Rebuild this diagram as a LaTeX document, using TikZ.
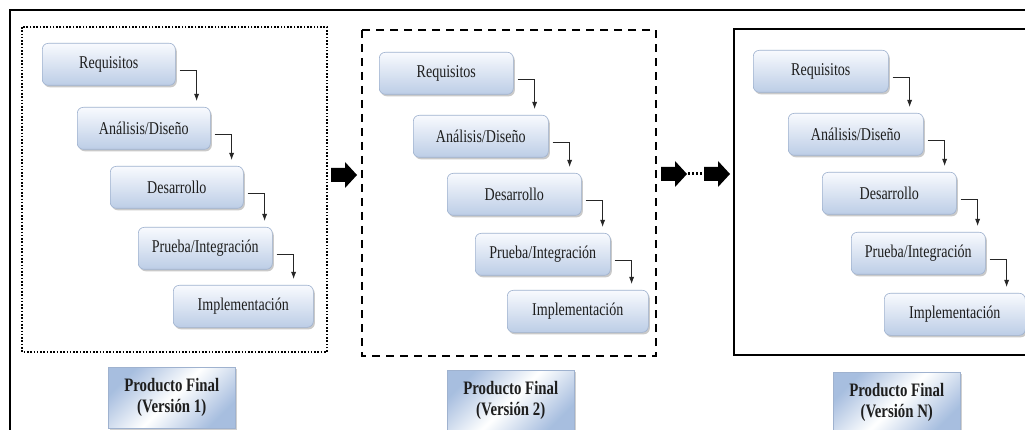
\documentclass[tikz,border=0pt]{standalone}
\usepackage{fontspec}
\setmainfont[FakeStretch=0.78]{Liberation Serif}
\usetikzlibrary{arrows.meta,shadows,calc}

\definecolor{stagetop}{HTML}{F8FAFE}
\definecolor{stagebot}{HTML}{BCCDE6}
\definecolor{stageline}{HTML}{9FB2CF}
\definecolor{prodblue}{HTML}{A7BEDF}
\definecolor{inktext}{HTML}{1E1E1E}

\tikzset{
  stage/.style={anchor=north west, rounded corners=6pt, draw=stageline, line width=0.6pt,
    top color=stagetop, bottom color=stagebot, minimum height=42pt, inner sep=0pt,
    text=inktext, font=\fontsize{18}{20}\selectfont,
    drop shadow={shadow xshift=1.5pt, shadow yshift=-2pt, opacity=0.35, fill=black!60}},
  product/.style={anchor=north west, draw=stageline, line width=0.5pt,
    shading=axis, top color=prodblue, bottom color=prodblue, middle color=white, shading angle=45,
    minimum width=127pt, minimum height=61pt, inner sep=0pt, align=center,
    text=inktext, font=\bfseries\fontsize{19}{21}\selectfont,
    drop shadow={shadow xshift=1.5pt, shadow yshift=-2pt, opacity=0.3, fill=black!60}},
  flow/.style={-{Latex[length=7pt,width=5pt]}, line width=0.8pt, draw=black!85},
  frame/.style={line width=2.6pt, draw=black}
}

% solid block arrow centred on a named coordinate
\newcommand\blockarrow[1]{%
  \fill[black] (#1) ++(-13,-7) -- ++(14,0) -- ++(0,-6) -- ++(12,13)
    -- ++(-12,13) -- ++(0,-6) -- ++(-14,0) -- cycle;}

\begin{document}
\begin{tikzpicture}[x=1pt, y=-1pt]
\useasboundingbox (0,0) rectangle (1025,430);
\fill[white] (0,0) rectangle (1025,430);

% outer frame
\draw[frame] (10,440) -- (10,10) -- (1040,10);

% version frames
\draw[line width=1.6pt, dash pattern=on 1.6pt off 1.7pt] (22,27) rectangle (327,352);
\draw[line width=2.4pt, dash pattern=on 8pt off 6pt] (362,30) rectangle (656,356);
\draw[line width=2.8pt] (734,29) rectangle (1040,355);

% stage boxes, version 1
\node[stage, minimum width=133pt] (a1) at (42,43) {Requisitos};
\node[stage, minimum width=133pt] (b1) at (77,107) {Análisis/Diseño};
\node[stage, minimum width=133pt] (c1) at (110,166) {Desarrollo};
\node[stage, minimum width=134pt] (d1) at (138,227) {Prueba/Integración};
\node[stage, minimum width=140pt] (e1) at (173,285) {Implementación};

% stage boxes, version 2
\node[stage, minimum width=134pt] (a2) at (379,52) {Requisitos};
\node[stage, minimum width=135pt] (b2) at (413,115) {Análisis/Diseño};
\node[stage, minimum width=134pt] (c2) at (447,173) {Desarrollo};
\node[stage, minimum width=135pt] (d2) at (475,233) {Prueba/Integración};
\node[stage, minimum width=141pt] (e2) at (507,290) {Implementación};

% stage boxes, version N
\node[stage, minimum width=135pt] (a3) at (753,50) {Requisitos};
\node[stage, minimum width=135pt] (b3) at (788,113) {Análisis/Diseño};
\node[stage, minimum width=134pt] (c3) at (822,172) {Desarrollo};
\node[stage, minimum width=134pt] (d3) at (851,232) {Prueba/Integración};
\node[stage, minimum width=141pt] (e3) at (884,293) {Implementación};

% step connectors
\foreach \v in {1,2,3}{
  \draw[flow] ([xshift=4pt,yshift=-6pt]a\v.east) -| ([xshift=21pt,yshift=6pt]b\v.north -| a\v.east);
  \draw[flow] ([xshift=4pt,yshift=-6pt]b\v.east) -| ([xshift=21pt,yshift=6pt]c\v.north -| b\v.east);
  \draw[flow] ([xshift=4pt,yshift=-6pt]c\v.east) -| ([xshift=21pt,yshift=6pt]d\v.north -| c\v.east);
  \draw[flow] ([xshift=4pt,yshift=-6pt]d\v.east) -| ([xshift=21pt,yshift=6pt]e\v.north -| d\v.east);
}

% final products
\node[product] (p1) at (108,367) {Producto Final\\(Versión 1)};
\node[product] (p2) at (447,370) {Producto Final\\(Versión 2)};
\node[product] (p3) at (833,372) {Producto Final\\(Versión N)};

% transitions between versions
\coordinate (t1) at (344,175);
\coordinate (t2) at (674,174);
\coordinate (t3) at (717,174);
\blockarrow{t1}
\blockarrow{t2}
\blockarrow{t3}
\draw[line width=3pt, dash pattern=on 2.4pt off 1.6pt] ([xshift=14pt]t2) -- ([xshift=-7pt]t3);
\end{tikzpicture}
\end{document}
